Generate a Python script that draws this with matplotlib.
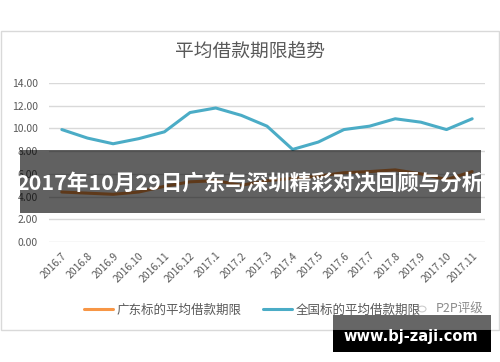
import matplotlib.pyplot as plt
from matplotlib.patches import Rectangle, Circle

plt.rcParams['font.family'] = ['Noto Sans CJK SC', 'DejaVu Sans']

months = ['2016.7', '2016.8', '2016.9', '2016.10', '2016.11', '2016.12',
          '2017.1', '2017.2', '2017.3', '2017.4', '2017.5', '2017.6',
          '2017.7', '2017.8', '2017.9', '2017.10', '2017.11']
guangdong = [4.4, 4.3, 4.2, 4.4, 4.9, 5.3, 5.4, 5.0, 5.4, 5.6, 5.8, 6.1,
             6.2, 6.35, 6.0, 5.5, 6.2]
national = [9.9, 9.15, 8.65, 9.1, 9.7, 11.4, 11.8, 11.15, 10.2, 8.15, 8.8,
            9.9, 10.2, 10.85, 10.55, 9.9, 10.85]
yticks = [0, 2, 4, 6, 8, 10, 12, 14]

W, H = 500, 362
fig = plt.figure(figsize=(W / 100, H / 100), dpi=100)

# chart frame
fig.add_artist(Rectangle((1 / W, 1 - 330 / H), 498 / W, 299 / H, transform=fig.transFigure,
                         facecolor='none', edgecolor='#d9d9d9', lw=1))

ax = fig.add_axes([49 / W, 1 - 242 / H, 436 / W, 159 / H])
x = list(range(len(months)))
ax.plot(x, guangdong, color='#f79646', lw=2.2, solid_capstyle='round', label='广东标的平均借款期限')
ax.plot(x, national, color='#4bacc6', lw=2.2, solid_capstyle='round', label='全国标的平均借款期限')

ax.set_xlim(-0.5, len(months) - 0.5)
ax.set_ylim(0, 14)
ax.set_yticks(yticks)
ax.set_yticklabels([f'{v:.2f}' for v in yticks])
ax.set_xticks(x)
ax.set_xticklabels(months, rotation=45, ha='right', rotation_mode='anchor')
ax.grid(axis='y', color='#d9d9d9', lw=1)
ax.set_axisbelow(True)
for s in ax.spines.values():
    s.set_visible(False)
ax.tick_params(length=0, labelsize=7.5, colors='#595959')
ax.tick_params(axis='x', pad=6)
ax.tick_params(axis='y', pad=8)

fig.text(0.5, 1 - 52 / H, '平均借款期限趋势', ha='center', va='center', fontsize=13.5, color='#595959')

fig.legend(loc='center', bbox_to_anchor=(0.505, 1 - 310 / H), ncol=2, frameon=False,
           fontsize=9, handlelength=2.3, columnspacing=1.7, handletextpad=0.3,
           labelcolor='#595959')

# small watermark
fig.add_artist(Circle((422 / W, 1 - 309 / H), 4 / W, transform=fig.transFigure,
                      facecolor='white', edgecolor='#cccccc', lw=0.8, zorder=4))
fig.text(460 / W, 1 - 309 / H, 'P2P评级', ha='center', va='center', fontsize=9,
         color='#8c8c8c', zorder=4)

# banner overlay
fig.add_artist(Rectangle((20 / W, 1 - 213 / H), 461 / W, 63 / H, transform=fig.transFigure,
                         facecolor='black', alpha=0.62, edgecolor='none', zorder=5))
fig.text(250 / W, 1 - 183 / H, '2017年10月29日广东与深圳精彩对决回顾与分析', ha='center', va='center',
         fontsize=15.5, fontweight='bold', color='white', zorder=6)

# site watermark
fig.add_artist(Rectangle((333 / W, 1 - 330 / H), 158 / W, 15 / H, transform=fig.transFigure,
                         facecolor='black', alpha=0.6, edgecolor='none', zorder=5))
fig.add_artist(Rectangle((333 / W, 1 - 352 / H), 158 / W, 22 / H, transform=fig.transFigure,
                         facecolor='black', edgecolor='none', zorder=5))
fig.text(411 / W, 1 - 337 / H, 'www.bj-zaji.com', ha='center', va='center', fontsize=10.5,
         fontweight='bold', color='white', family='DejaVu Sans', zorder=6)

fig.savefig('out.png', dpi=100)
